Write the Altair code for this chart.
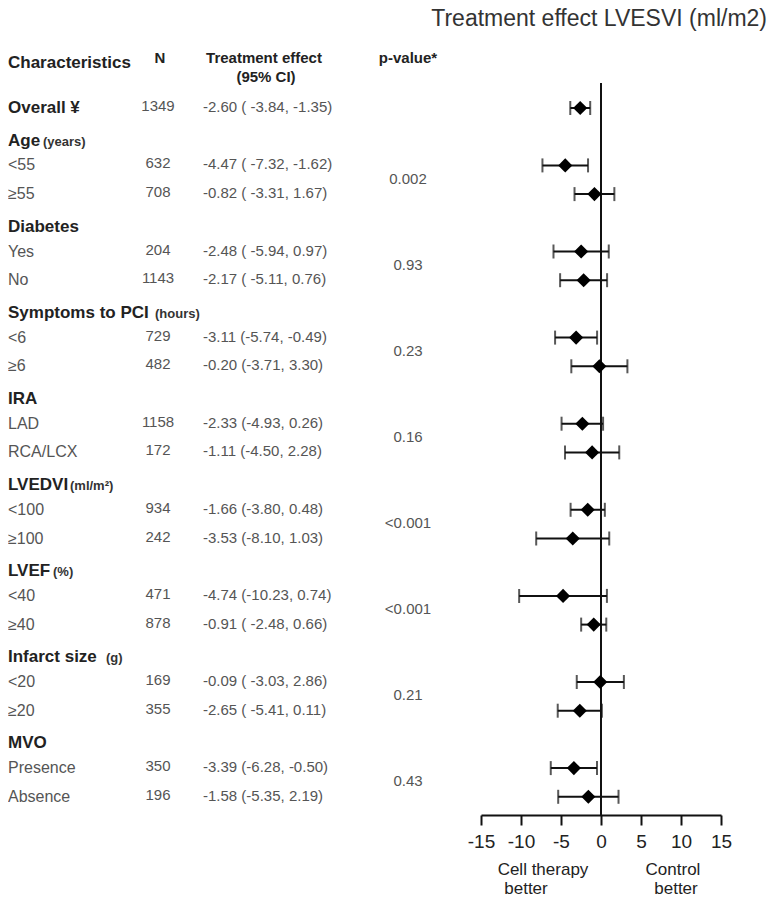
import altair as alt
import pandas as pd

# ---------------- data ----------------
groups = ["Age", "Diabetes", "Symptoms to PCI", "IRA", "LVEDVI", "LVEF", "Infarct size", "MVO"]
units = ["(years)", "", "(hours)", "", "(ml/m²)", "(%)", "(g)", ""]
sub_labels = ["<55", "≥55", "Yes", "No", "<6", "≥6", "LAD", "RCA/LCX",
              "<100", "≥100", "<40", "≥40", "<20", "≥20", "Presence", "Absence"]
sub_n = [632, 708, 204, 1143, 729, 482, 1158, 172, 934, 242, 471, 878, 169, 355, 350, 196]
sub_est = [-4.47, -0.82, -2.48, -2.17, -3.11, -0.20, -2.33, -1.11,
           -1.66, -3.53, -4.74, -0.91, -0.09, -2.65, -3.39, -1.58]
sub_lo = [-7.32, -3.31, -5.94, -5.11, -5.74, -3.71, -4.93, -4.50,
          -3.80, -8.10, -10.23, -2.48, -3.03, -5.41, -6.28, -5.35]
sub_hi = [-1.62, 1.67, 0.97, 0.76, -0.49, 3.30, 0.26, 2.28,
          0.48, 1.03, 0.74, 0.66, 2.86, 0.11, -0.50, 2.19]
sub_ci_text = ["-4.47 ( -7.32, -1.62)", "-0.82 ( -3.31,  1.67)",
               "-2.48 ( -5.94,  0.97)", "-2.17 ( -5.11,  0.76)",
               "-3.11 (-5.74, -0.49)", "-0.20 (-3.71,  3.30)",
               "-2.33 (-4.93,  0.26)", "-1.11 (-4.50,  2.28)",
               "-1.66 (-3.80,  0.48)", "-3.53 (-8.10,  1.03)",
               "-4.74 (-10.23, 0.74)", "-0.91 ( -2.48,  0.66)",
               "-0.09 ( -3.03, 2.86)", "-2.65 ( -5.41, 0.11)",
               "-3.39 (-6.28, -0.50)", "-1.58 (-5.35,  2.19)"]
p_values = ["0.002", "0.93", "0.23", "0.16", "<0.001", "<0.001", "0.21", "0.43"]
overall_label = "Overall ¥"
overall_n = 1349
overall_est = -2.60
overall_lo = -3.84
overall_hi = -1.35
overall_ci_text = "-2.60 ( -3.84, -1.35)"
x_ticks = [-15, -10, -5, 0, 5, 10, 15]

# ---------------- layout (pixels, view coords) ----------------
unit_x = [35, 0, 147, 0, 62, 45, 98, 0]
X_LABEL = 0
X_N = 150
X_CI = 195
X_P = 400
W, H = 759, 807
ROW0, ROWH = 100, 28.7
y_dom = [-ROW0 / ROWH, (H - ROW0) / ROWH]
FONT = "Liberation Sans"
TXT = "#555"
HDR = "#222"

rows = [dict(row=0, label=overall_label, n=overall_n, est=overall_est,
             lo=overall_lo, hi=overall_hi, ci=overall_ci_text)]
for i in range(len(sub_labels)):
    g = i // 2
    r = 3 * g + 2 + (i % 2)
    rows.append(dict(row=r, label=sub_labels[i], n=sub_n[i], est=sub_est[i],
                     lo=sub_lo[i], hi=sub_hi[i], ci=sub_ci_text[i]))
df = pd.DataFrame(rows)
df_sub = df[df.row > 0]

hdr = pd.DataFrame(dict(row=[3 * g + 1 for g in range(len(groups))], name=groups))
hdr_units = pd.DataFrame(dict(row=[3 * g + 1 for g in range(len(groups))], unit=units, ux=unit_x))
hdr_units = hdr_units[hdr_units.unit != ""]
pv = pd.DataFrame(dict(row=[3 * g + 2.5 for g in range(len(groups))], p=p_values))

yscale = alt.Scale(domain=y_dom, reverse=True, nice=False, zero=False)
xscale = alt.Scale(domain=[-15, 15], range=[473, 713], nice=False, zero=False)


def Y():
    return alt.Y("row:Q", scale=yscale, axis=None)


base = alt.Chart(df)

# forest plot
err = base.mark_rule(color="#111", strokeWidth=2).encode(
    x=alt.X("lo:Q", scale=xscale,
            axis=alt.Axis(values=x_ticks, title=None, grid=False, domainWidth=2,
                          domainColor="#111", tickColor="#111", tickWidth=2, tickSize=10,
                          labelFontSize=19, labelFont=FONT, labelColor="#222",
                          labelPadding=7, labelOverlap=False, labelFlush=False,
                          labelExpr="datum.value + ''")),
    x2="hi:Q",
    y=Y(),
)
cap_lo = base.mark_tick(orient="vertical", color="#111", thickness=2, size=14).encode(
    x=alt.X("lo:Q", scale=xscale), y=Y())
cap_hi = base.mark_tick(orient="vertical", color="#111", thickness=2, size=14).encode(
    x=alt.X("hi:Q", scale=xscale), y=Y())
pts = base.mark_point(shape="diamond", filled=True, size=200, color="#000", opacity=1).encode(
    x=alt.X("est:Q", scale=xscale), y=Y())
zero = alt.Chart(pd.DataFrame(dict(v=[0]))).mark_rule(color="#111", strokeWidth=2).encode(
    x=alt.X("v:Q", scale=xscale), y=alt.value(75), y2=alt.value(H))

# table text
lab_sub = alt.Chart(df_sub).mark_text(align="left", baseline="middle", font=FONT, fontSize=16,
                                      color=TXT).encode(
    x=alt.value(X_LABEL), y=Y(), text="label:N")
lab_overall = alt.Chart(df[df.row == 0]).mark_text(align="left", baseline="middle", font=FONT,
                                                   fontSize=17, fontWeight="bold", color=HDR).encode(
    x=alt.value(X_LABEL), y=Y(), text="label:N")
n_txt = base.mark_text(align="center", baseline="middle", font=FONT, fontSize=15, color=TXT,
                       dy=-2).encode(x=alt.value(X_N), y=Y(), text="n:Q")
ci_txt = base.mark_text(align="left", baseline="middle", font=FONT, fontSize=15, color=TXT,
                        dy=-1).encode(x=alt.value(X_CI), y=Y(), text="ci:N")
hdr_txt = alt.Chart(hdr).mark_text(align="left", baseline="alphabetic", font=FONT, fontSize=17,
                                   fontWeight="bold", color=HDR, dy=9).encode(
    x=alt.value(X_LABEL), y=Y(), text="name:N")
unit_txt = alt.Chart(hdr_units).mark_text(align="left", baseline="alphabetic", font=FONT,
                                          fontSize=13, fontWeight="bold", color="#333", dy=9).encode(
    x=alt.X("ux:Q", scale=None), y=Y(), text="unit:N")
p_txt = alt.Chart(pv).mark_text(align="center", baseline="middle", font=FONT, fontSize=15,
                                color=TXT, dy=-1).encode(x=alt.value(X_P), y=Y(), text="p:N")

# column headers
col_left = alt.Chart(pd.DataFrame(dict(t=["Characteristics"], x=[0], y=[55]))).mark_text(
    align="left", baseline="middle", font=FONT, fontSize=17, fontWeight="bold", color=HDR).encode(
    x=alt.X("x:Q", scale=None), y=alt.Y("y:Q", scale=None), text="t:N")
col_center = alt.Chart(pd.DataFrame(dict(
    t=["N", "Treatment effect", "(95% CI)", "p-value*"],
    x=[152, 256, 258, 400],
    y=[50, 50, 69, 50],
))).mark_text(align="center", baseline="middle", font=FONT, fontSize=15,
              fontWeight="bold", color=HDR).encode(
    x=alt.X("x:Q", scale=None), y=alt.Y("y:Q", scale=None), text="t:N")

notes = pd.DataFrame(dict(
    t=["Cell therapy", "better", "Control", "better"],
    x=[535, 518, 665, 668],
    y=[862, 881, 862, 881],
))
note_txt = alt.Chart(notes).mark_text(align="center", baseline="middle", font=FONT, fontSize=17,
                                      color="#222").encode(
    x=alt.X("x:Q", scale=None), y=alt.Y("y:Q", scale=None), text="t:N")

title = alt.Chart(pd.DataFrame(dict(t=["Treatment effect LVESVI (ml/m2)"]))).mark_text(
    align="right", baseline="top", font=FONT, fontSize=23, color="#333").encode(
    x=alt.value(759), y=alt.value(0), text="t:N")

chart = alt.layer(
    zero, err, cap_lo, cap_hi, pts,
    lab_sub, lab_overall, n_txt, ci_txt, hdr_txt, unit_txt, p_txt,
    col_left, col_center, note_txt, title,
).properties(width=W, height=H, padding=0).configure_view(stroke=None)

chart.save("out.html", embed_options={"renderer": "svg", "actions": False})
